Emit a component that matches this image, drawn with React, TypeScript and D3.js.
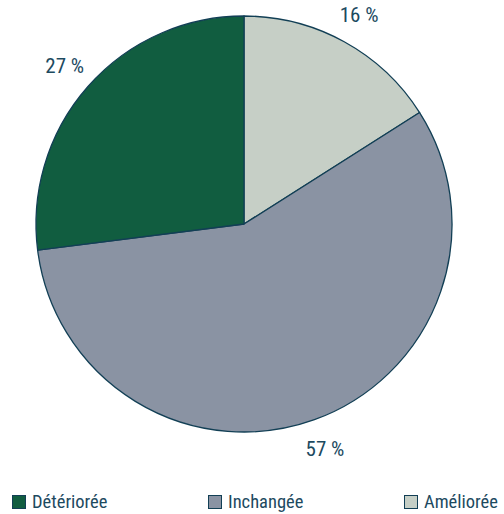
import React from "react";
import * as d3 from "d3";

const categories = ["Améliorée", "Inchangée", "Détériorée"];
const values = [16, 57, 27];
const colors = ["#c6cfc6", "#8a93a3", "#115d40"];
const legendOrder = ["Détériorée", "Inchangée", "Améliorée"];

const W = 504, H = 514;
const cx = 244, cy = 224, R = 208;
const FONT = "'Liberation Sans Narrow', 'Arial Narrow', 'Roboto Condensed', sans-serif";
const TEXT = "#1d4a5f";

export default function App() {
  const data = categories.map((c, i) => ({ c, v: values[i], color: colors[i] }));
  const pie = d3.pie<any>().value((d) => d.v).sort(null);
  const arcs = pie(data);
  const arc = d3.arc<any>().innerRadius(0).outerRadius(R);
  const labelArc = d3.arc<any>().innerRadius(239).outerRadius(239);
  const legendX = d3.scalePoint<string>().domain(legendOrder).range([12, 404]);
  return (
    <svg width={W} height={H} style={{ position: "absolute", left: 0, top: 0 }}>
      <g transform={`translate(${cx},${cy})`}>
        {arcs.map((a, i) => (
          <path key={i} d={arc(a) as string} fill={a.data.color} stroke="#123f55" strokeWidth={1.3} strokeLinejoin="round" />
        ))}
        {arcs.map((a, i) => {
          const [x, y] = labelArc.centroid(a);
          return (
            <text key={"l" + i} x={x} y={y} textAnchor="middle" dominantBaseline="central" fontFamily={FONT} fontSize={21} fill={TEXT}>
              {a.data.v} %
            </text>
          );
        })}
      </g>
      {legendOrder.map((c) => {
        const i = categories.indexOf(c);
        const x = legendX(c)!;
        return (
          <g key={c} transform={`translate(${x},495)`}>
            <rect x={0.5} y={0.5} width={13} height={13} fill={colors[i]} stroke="#123f55" strokeWidth={1} />
            <text x={20} y={12.5} fontFamily={FONT} fontSize={18.5} fill={TEXT}>{c}</text>
          </g>
        );
      })}
    </svg>
  );
}
